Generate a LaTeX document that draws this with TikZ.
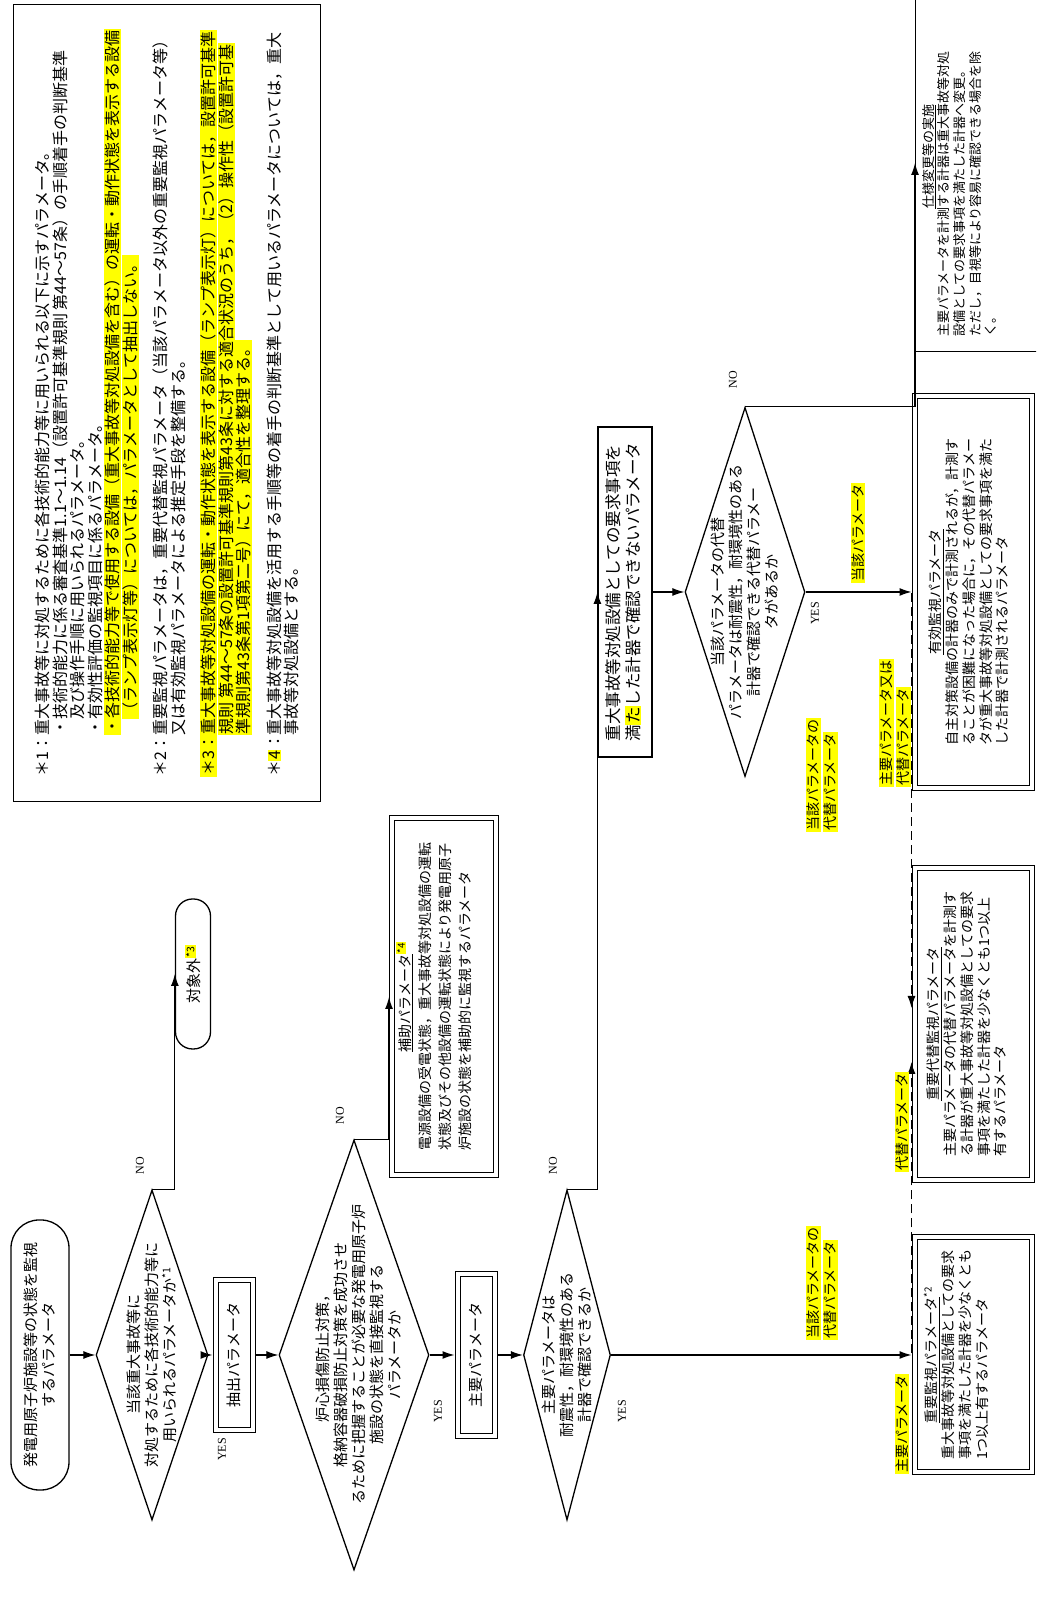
\documentclass[tikz,border=0pt]{standalone}
\usepackage{fontspec}
\setmainfont{Noto Sans CJK JP}
\newfontfamily\ynfont{Liberation Serif}
\usepackage{xcolor}
\usetikzlibrary{shapes.geometric,arrows.meta,positioning}

\definecolor{marker}{RGB}{255,255,0}
\newcommand{\hl}[1]{{\setlength{\fboxsep}{1pt}\colorbox{marker}{#1}}}
\newcommand{\lead}[1]{\makebox[2.6em][l]{#1}}

\tikzset{
  arr/.style={-{Latex[length=12pt,width=8pt]},line width=1.2pt},
  darr/.style={arr,dash pattern=on 9pt off 5pt},
  plainbox/.style={draw,line width=1.2pt,inner sep=0pt},
  dblbox/.style={draw,line width=1pt,double,double distance=4pt,inner sep=0pt,outer sep=3pt},
  dec/.style={draw,diamond,line width=1.3pt,inner sep=0pt},
  flowtxt/.style={font=\fontsize{15}{18}\selectfont,align=center,inner sep=0pt},
  boxtxt/.style={font=\fontsize{14}{16.5}\selectfont},
  marktag/.style={font=\fontsize{14}{17}\selectfont,inner sep=0pt,align=left},
  yn/.style={font=\ynfont\fontsize{12}{14}\selectfont,inner sep=0pt},
}

\begin{document}
\begin{tikzpicture}[x=1pt,y=-1pt,rotate=90,transform shape]

% Cadre de la page
\fill[white] (0,0) rectangle (1614,1036);
\useasboundingbox (0,0) rectangle (1614,1036);
\clip (0,0) rectangle (1614,1036);

% Notes
\node[
plainbox,
anchor=north west,
minimum width=797pt,
minimum height=307pt,
font=\fontsize{16}{17.5}\selectfont,
align=left
]
(notes) at (812,13)
{
\lead{＊1：}重大事故等に対処するために各技術的能力等に用いられる以下に示すパラメータ。\\
\lead{}・技術的能力に係る審査基準1.1～1.14（設置許可基準規則 第44～57条）の手順着手の判断基準\\
\lead{}\hspace*{1em}及び操作手順に用いられるパラメータ。\\
\lead{}・有効性評価の監視項目に係るパラメータ。\\
\lead{}\hl{・各技術的能力等で使用する設備（重大事故等対処設備を含む）の運転・動作状態を表示する設備}\\
\lead{}\hspace*{1em}\hl{（ランプ表示灯等）については，パラメータとして抽出しない。}\\[13pt]
\lead{＊2：}重要監視パラメータは，重要代替監視パラメータ（当該パラメータ以外の重要監視パラメータ等）\\
\lead{}又は有効監視パラメータによる推定手段を整備する。\\[13pt]
\hl{\lead{＊3：}重大事故等対処設備の運転・動作状態を表示する設備（ランプ表示灯）については，設置許可基準}\\
\lead{}\hl{規則 第44～57条の設置許可基準規則第43条に対する適合状況のうち，（2）操作性（設置許可基}\\
\lead{}\hl{準規則第43条第1項第二号）にて，適合性を整理する。}\\[13pt]
\lead{＊\hl{4}：}重大事故等対処設備を活用する手順等の着手の判断基準として用いるパラメータについては，重大\\
\lead{}事故等対処設備とする。
};

% Depart
\node[
draw,
line width=1.3pt,
rounded corners=28pt,
minimum width=270pt,
minimum height=58pt,
font=\fontsize{15}{18}\selectfont,
align=center
]
(start) at (259,40)
{発電用原子炉施設等の状態を監視\\するパラメータ};

% Losanges et boites de la colonne principale
\node[dec,minimum width=330pt,minimum height=112pt] (d1) at (259,152) {};
\node[flowtxt] (d1t) at (d1) {当該重大事故等に\\対処するために各技術的能力等に\\用いられるパラメータか\textsuperscript{*1}};

\node[dblbox,minimum width=150pt,minimum height=37pt,font=\fontsize{15}{18}\selectfont] (extract) at (259,234) {抽出パラメータ};

\node[dec,minimum width=430pt,minimum height=150pt] (d2) at (259,354) {};
\node[flowtxt,yshift=-4pt] (d2t) at (d2) {炉心損傷防止対策，\\格納容器破損防止対策を成功させ\\るために把握することが必要な発電用原子炉\\施設の状態を直接監視する\\パラメータか};

\node[dblbox,minimum width=162pt,minimum height=37pt,font=\fontsize{15}{18}\selectfont] (primary) at (259,476) {主要パラメータ};

\node[dec,minimum width=330pt,minimum height=87pt] (d3) at (259,567) {};
\node[flowtxt] (d3t) at (d3) {主要パラメータは\\耐震性，耐環境性のある\\計器で確認できるか};

% Branches NO
\node[
draw,
line width=1.3pt,
rounded corners=17pt,
minimum width=150pt,
minimum height=35pt,
font=\fontsize{15}{18}\selectfont
]
(excl) at (640,193)
{対象外\textsuperscript{\hl{*3}}};

\node[dblbox,minimum width=357pt,minimum height=104pt,font=\fontsize{14}{20}\selectfont] (aux) at (617,444)
{\begin{tabular}{@{}l@{}}
\multicolumn{1}{@{}c@{}}{\underline{補助パラメータ}\textsuperscript{\hl{*4}}}\\
電源設備の受電状態，重大事故等対処設備の運転\\
状態及びその他設備の運転状態により発電用原子\\
炉施設の状態を補助的に監視するパラメータ\\[16pt]
\end{tabular}};

\node[plainbox,minimum width=330pt,minimum height=54pt,font=\fontsize{16.5}{17.5}\selectfont] (unmet) at (1022,625)
{\begin{tabular}{@{}l@{}}
重大事故等対処設備としての要求事項を\\
満\hl{た}した計器で確認できないパラメータ
\end{tabular}};

\node[dec,minimum width=369pt,minimum height=120pt] (d4) at (1022,745) {};
\node[flowtxt] (d4t) at (d4) {当該パラメータの代替\\パラメータは耐震性，耐環境性のある\\計器で確認できる代替パラメー\\タがあるか};

% Boites du bas
\node[dblbox,boxtxt,minimum width=235pt,minimum height=117pt] (keymon) at (259,973)
{\begin{tabular}{@{}l@{}}
\multicolumn{1}{@{}c@{}}{\underline{重要監視パラメータ}\textsuperscript{*2}}\\
重大事故等対処設備としての要求\\
事項を満たした計器を少なくとも\\
1つ以上有するパラメータ\\[30pt]
\end{tabular}};

\node[dblbox,boxtxt,minimum width=312pt,minimum height=117pt] (altmon) at (590,973)
{\begin{tabular}{@{}l@{}}
\multicolumn{1}{@{}c@{}}{\underline{重要代替監視パラメータ}}\\
主要パラメータの代替パラメータを計測す\\
る計器が重大事故等対処設備としての要求\\
事項を満たした計器を少なくとも1つ以上\\
有するパラメータ\\[8pt]
\end{tabular}};

\node[dblbox,boxtxt,minimum width=392pt,minimum height=117pt] (effmon) at (1022,973)
{\begin{tabular}{@{}l@{}}
\multicolumn{1}{@{}c@{}}{\underline{有効監視パラメータ}}\\
自主対策設備の計器のみで計測されるが，計測す\\
ることが困難になった場合に，その代替パラメー\\
タが重大事故等対処設備としての要求事項を満た\\
した計器で計測されるパラメータ\\[4pt]
\end{tabular}};

\node[plainbox,anchor=north west,minimum width=460pt,minimum height=170pt] (spec) at (1262,915) {};
\node[anchor=north west,inner sep=0pt,font=\fontsize{13}{15.5}\selectfont] (spect) at (1277,922)
{\begin{tabular}{@{}l@{}}
\multicolumn{1}{@{}c@{}}{\makebox[360pt]{\underline{仕様変更等の実施}}}\\
\makebox[360pt][s]{主要パラメータを計測する計器は重大事故等対処\hfill}\\
設備としての要求事項を満たした計器へ変更。\\
\makebox[360pt][s]{ただし，目視等により容易に確認できる場合を除\hfill}\\
く。
\end{tabular}};

% Fleches
\draw[arr] (start) -- (d1);
\draw[arr] (d1) -- (extract);
\draw[arr] (extract) -- (d2);
\draw[arr] (d2) -- (primary);
\draw[arr] (primary) -- (d3);
\draw[arr] (d3) -- (keymon);
\draw[arr] (d1.east) |- (excl.north);
\draw[arr] (d2.east) |- (aux.north);
\draw[arr] (d3.east) |- (unmet.north);
\draw[arr] (unmet) -- (d4);
\draw[arr] (d4) -- (effmon);
\coordinate (specin) at (1451,915);
\draw[arr] (d4.east) |- (specin);

% Fleches en tirets
\coordinate (jA) at (1022,843);
\coordinate (jB) at (259,843);
\draw[darr] (jA) |- ([xshift=16pt]altmon.north);
\draw[darr] (jB) |- ([xshift=-38pt]altmon.north);

% Etiquettes jaunes
\node[marktag,anchor=east] (lblMain) at (240,902) {\hl{主要パラメータ}};
\node[marktag,anchor=south west] (lblAltA) at (274,838) {\hl{当該パラメータの}\\\hl{代替パラメータ}};
\node[marktag,anchor=east] (lblAlt) at (542,902) {\hl{代替パラメータ}};
\node[marktag,anchor=south] (lblAltB) at (839,838) {\hl{当該パラメータの}\\\hl{代替パラメータ}};
\node[marktag,anchor=south west] (lblMainAlt) at (827,911) {\hl{主要パラメータ又は}\\\hl{代替パラメータ}};
\node[marktag,anchor=west] (lblThis) at (1031,858) {\hl{当該パラメータ}};

% YES / NO
\node[yn,anchor=east] (y1) at (176,222) {YES};
\node[yn,anchor=east] (y2) at (214,438) {YES};
\node[yn,anchor=east] (y3) at (214,622) {YES};
\node[yn,anchor=east] (y4) at (1012,815) {YES};
\node[yn] (n1) at (448,140) {NO};
\node[yn] (n2) at (498,340) {NO};
\node[yn] (n3) at (448,553) {NO};
\node[yn] (n4) at (1234,733) {NO};

\end{tikzpicture}
\end{document}
